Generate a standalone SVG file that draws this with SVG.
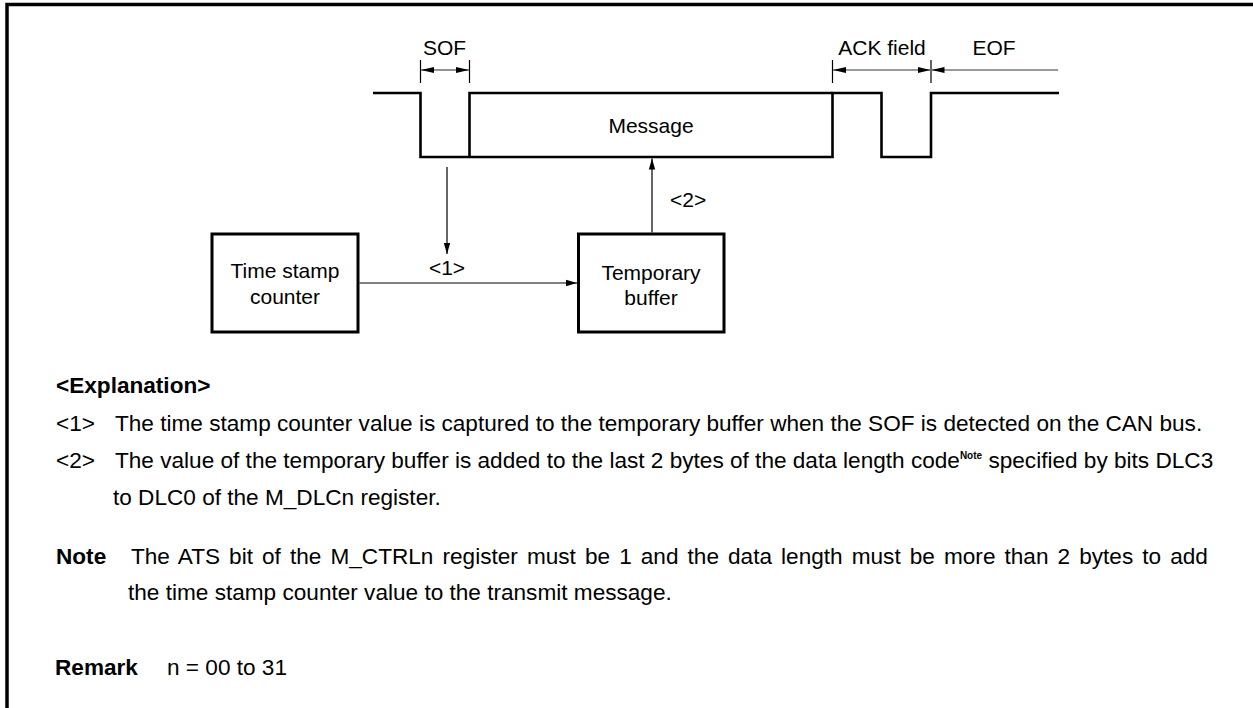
<svg xmlns="http://www.w3.org/2000/svg" width="1253" height="708" viewBox="0 0 1253 708">
<style>
text{font-family:"Liberation Sans",Arial,sans-serif;font-size:21px;fill:#000}
.t{font-size:22.6px}
.b{font-weight:bold}
.c{text-anchor:middle}
.wave{fill:none;stroke:#000;stroke-width:2.6}
.box{fill:#fff;stroke:#000;stroke-width:3}
.conn{fill:none;stroke:#000;stroke-width:1.2}
.dim{fill:none;stroke:#777;stroke-width:1.6}
.tick{fill:none;stroke:#000;stroke-width:1.2}
</style>
<defs>
<marker id="ah" markerUnits="userSpaceOnUse" markerWidth="12" markerHeight="8" refX="11" refY="4" orient="auto">
<path d="M0,0.8 L11,4 L0,7.2 z" fill="#000"/>
</marker>
<marker id="dh" markerUnits="userSpaceOnUse" markerWidth="14" markerHeight="8" refX="13" refY="4" orient="auto">
<path d="M0,1 L13,4 L0,7 z" fill="#000"/>
</marker>
</defs>
<rect width="1253" height="708" fill="#fff"/>
<path d="M7,708 V4.5 H1253" fill="none" stroke="#000" stroke-width="3.5"/>

<g id="waveform">
<path class="wave" d="M373,93 H420.5 V157 H832.5 V93 H881.5 V157 H931 V93 H1059"/>
<path class="wave" d="M469.5,157 V93 H832.5"/>
</g>

<g id="dimensions">
<path class="tick" d="M420.5,60 V83 M469.5,60 V83 M832.5,60 V83 M931,60 V83"/>
<line class="dim" x1="444" y1="70" x2="421" y2="70" marker-end="url(#dh)"/>
<line class="dim" x1="444" y1="70" x2="469" y2="70" marker-end="url(#dh)"/>
<line class="dim" x1="880" y1="70" x2="833" y2="70" marker-end="url(#dh)"/>
<line class="dim" x1="880" y1="70" x2="930.5" y2="70" marker-end="url(#dh)"/>
<line class="dim" x1="1058" y1="70" x2="931.5" y2="70" marker-end="url(#dh)"/>
<text class="c" x="444.5" y="55">SOF</text>
<text class="c" x="882" y="55">ACK field</text>
<text class="c" x="994" y="55">EOF</text>
</g>

<g id="message">
<text class="c" x="651" y="133">Message</text>
</g>

<g id="timestamp">
<rect class="box" x="212" y="234" width="146" height="98"/>
<text class="c" x="285" y="278">Time stamp</text>
<text class="c" x="285" y="304">counter</text>
</g>

<g id="tempbuffer">
<rect class="box" x="578.5" y="234" width="145.5" height="98"/>
<text class="c" x="651" y="280">Temporary</text>
<text class="c" x="651" y="305">buffer</text>
</g>

<g id="connectors">
<line class="conn" x1="447" y1="167" x2="447" y2="254" marker-end="url(#ah)"/>
<line class="conn" x1="359.5" y1="283" x2="577" y2="283" marker-end="url(#ah)"/>
<line class="conn" x1="652" y1="232.5" x2="652" y2="158.5" marker-end="url(#ah)"/>
<text class="c" x="447" y="275">&lt;1&gt;</text>
<text x="670" y="207">&lt;2&gt;</text>
</g>

<g id="explanation">
<text class="t b" x="56" y="393">&lt;Explanation&gt;</text>
<text class="t" x="56" y="431">&lt;1&gt;</text>
<text class="t" x="115" y="431">The time stamp counter value is captured to the temporary buffer when the SOF is detected on the CAN bus.</text>
<text class="t" x="56" y="468">&lt;2&gt;</text>
<text class="t" x="115" y="468">The value of the temporary buffer is added to the last 2 bytes of the data length code<tspan class="b" font-size="10" dy="-9">Note</tspan><tspan dy="9"> specified by bits DLC3</tspan></text>
<text class="t" x="113" y="505">to DLC0 of the M_DLCn register.</text>
<text class="t b" x="56" y="564">Note</text>
<text class="t" x="131" y="564" word-spacing="2.8">The ATS bit of the M_CTRLn register must be 1 and the data length must be more than 2 bytes to add</text>
<text class="t" x="128" y="600">the time stamp counter value to the transmit message.</text>
<text class="t b" x="55" y="675">Remark</text>
<text class="t" x="167" y="675">n = 00 to 31</text>
</g>
</svg>
